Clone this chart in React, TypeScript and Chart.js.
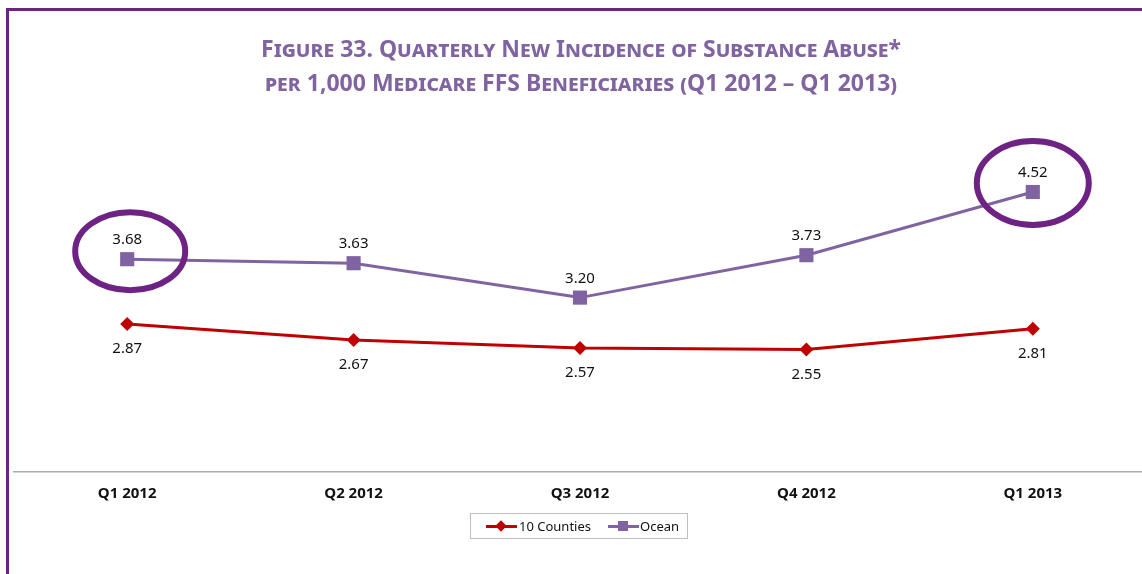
import React, { useEffect, useRef } from "react";
import { Chart, registerables } from "chart.js";

Chart.register(...registerables);

const categories = ["Q1 2012", "Q2 2012", "Q3 2012", "Q4 2012", "Q1 2013"];
const countiesValues = [2.87, 2.67, 2.57, 2.55, 2.81];
const oceanValues = [3.68, 3.63, 3.2, 3.73, 4.52];
const highlightedOceanIndexes = [0, 4];

const RED = "#C00000";
const PURPLE = "#8064A2";
const DARK_PURPLE = "#6E2384";
const FONT = "'Noto Sans', 'Open Sans', sans-serif";

const labelPlugin = {
  id: "valueLabels",
  afterDatasetsDraw(chart: any) {
    const ctx = chart.ctx;
    ctx.save();
    ctx.font = `15px ${FONT}`;
    ctx.fillStyle = "#111";
    ctx.textAlign = "center";
    ctx.textBaseline = "middle";
    chart.data.datasets.forEach((ds: any, di: number) => {
      const meta = chart.getDatasetMeta(di);
      meta.data.forEach((pt: any, i: number) => {
        const v = ds.data[i] as number;
        const dy = di === 1 ? -19 : 25;
        ctx.fillText(v.toFixed(2), pt.x, pt.y + dy);
      });
    });
    ctx.restore();
  },
};

const ellipsePlugin = {
  id: "highlightEllipses",
  afterDatasetsDraw(chart: any) {
    const ctx = chart.ctx;
    const meta = chart.getDatasetMeta(1);
    ctx.save();
    ctx.strokeStyle = DARK_PURPLE;
    ctx.lineWidth = 6;
    highlightedOceanIndexes.forEach((idx, k) => {
      const pt = meta.data[idx];
      if (!pt) return;
      const rx = k === 0 ? 55 : 56;
      const ry = k === 0 ? 39 : 42;
      const dx = k === 0 ? 3 : 0;
      const dy = k === 0 ? -8 : -9;
      ctx.beginPath();
      ctx.ellipse(pt.x + dx, pt.y + dy, rx, ry, 0, 0, Math.PI * 2);
      ctx.stroke();
    });
    ctx.restore();
  },
};

export default function App() {
  const ref = useRef<HTMLCanvasElement | null>(null);

  useEffect(() => {
    if (!ref.current) return;
    const chart = new Chart(ref.current, {
      type: "line",
      data: {
        labels: categories,
        datasets: [
          {
            label: "10 Counties",
            data: countiesValues,
            borderColor: RED,
            backgroundColor: RED,
            borderWidth: 3,
            pointStyle: "rectRot",
            pointRadius: 7,
            pointBorderWidth: 0,
            tension: 0,
          },
          {
            label: "Ocean",
            data: oceanValues,
            borderColor: PURPLE,
            backgroundColor: PURPLE,
            borderWidth: 3,
            pointStyle: "rect",
            pointRadius: 10,
            pointBorderWidth: 0,
            tension: 0,
          },
        ],
      },
      options: {
        animation: false,
        responsive: false,
        maintainAspectRatio: false,
        layout: { padding: { left: 14, right: 5, top: 112, bottom: 58 } },
        plugins: {
          legend: { display: false },
          title: { display: false },
          tooltip: { enabled: false },
        },
        scales: {
          x: {
            type: "category",
            offset: true,
            grid: { display: false, drawTicks: false },
            border: { display: true, color: "#ABABAB", width: 1.5 },
            ticks: {
              color: "#111",
              padding: 13,
              font: { family: FONT, size: 15, weight: "bold" },
            },
          },
          y: {
            display: false,
            min: 1.02,
            max: 5.52,
          },
        },
      },
      plugins: [ellipsePlugin, labelPlugin],
    });
    return () => chart.destroy();
  }, []);

  const legendLine = (color: string, marker: React.ReactNode) => (
    <span
      style={{
        position: "relative",
        display: "inline-block",
        width: 31,
        height: 14,
        verticalAlign: "middle",
      }}
    >
      <span
        style={{
          position: "absolute",
          left: 0,
          right: 0,
          top: 6,
          height: 3,
          background: color,
        }}
      />
      {marker}
    </span>
  );

  return (
    <div
      style={{
        position: "absolute",
        left: 0,
        top: 0,
        width: 1142,
        height: 574,
        overflow: "hidden",
        background: "#fff",
        fontFamily: FONT,
      }}
    >
      <div
        style={{
          position: "absolute",
          left: 6,
          top: 8,
          width: 2000,
          height: 2000,
          borderLeft: `3px solid ${DARK_PURPLE}`,
          borderTop: `3px solid ${DARK_PURPLE}`,
        }}
      />
      <canvas
        ref={ref}
        width={1156}
        height={574}
        style={{ position: "absolute", left: 0, top: 0, width: 1156, height: 574 }}
      />
      <div
        style={{
          position: "absolute",
          left: 0,
          width: 1162,
          top: 31,
          textAlign: "center",
          color: PURPLE,
          fontWeight: "bold",
          fontSize: 23,
          lineHeight: "34px",
          fontVariant: "small-caps",
          whiteSpace: "nowrap",
        }}
      >
        <div>Figure 33. Quarterly New Incidence of Substance Abuse*</div>
        <div>per 1,000 Medicare FFS Beneficiaries (Q1 2012 – Q1 2013)</div>
      </div>
      <div
        style={{
          position: "absolute",
          left: 470,
          top: 513,
          width: 218,
          height: 26,
          border: "1px solid #BFBFBF",
          boxSizing: "border-box",
          display: "flex",
          alignItems: "center",
          paddingLeft: 15,
          fontSize: 13,
          color: "#111",
          whiteSpace: "nowrap",
        }}
      >
        {legendLine(
          RED,
          <span
            style={{
              position: "absolute",
              left: 11,
              top: 3,
              width: 8,
              height: 8,
              background: RED,
              transform: "rotate(45deg)",
            }}
          />
        )}
        <span style={{ marginLeft: 2 }}>10 Counties</span>
        <span style={{ marginLeft: 17 }} />
        {legendLine(
          PURPLE,
          <span
            style={{
              position: "absolute",
              left: 10,
              top: 2,
              width: 10,
              height: 10,
              background: PURPLE,
            }}
          />
        )}
        <span style={{ marginLeft: 1 }}>Ocean</span>
      </div>
    </div>
  );
}
